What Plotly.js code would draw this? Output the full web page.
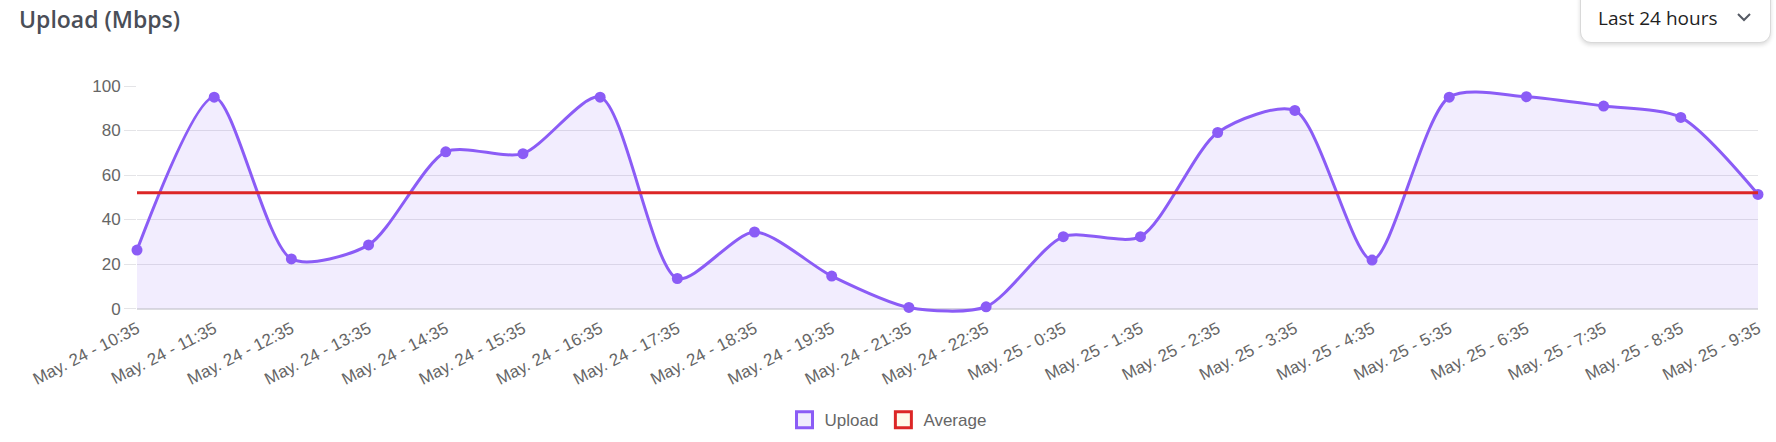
<!DOCTYPE html>
<html>
<head>
<meta charset="utf-8">
<script src="https://cdn.plot.ly/plotly-3.0.1.min.js"></script>
<style>
  html, body { margin: 0; padding: 0; background: #fff; }
  #wrap { position: relative; width: 1776px; height: 442px; overflow: hidden; }
  #chart { position: absolute; left: 0; top: 0; width: 1776px; height: 442px; }
  #dropdown {
    position: absolute; left: 1580px; top: -12px; width: 191px; height: 55px;
    border: 1px solid #d9d9d9; border-radius: 11px; background: #fff;
    box-shadow: 0 2px 4px rgba(0,0,0,0.14);
    font-family: "Open Sans", "Noto Sans", sans-serif; font-size: 19px; color: #1f1f1f;
    box-sizing: border-box;
  }
  #dropdown .txt { position: absolute; left: 17px; top: 17px; line-height: 24px; }
  #dropdown svg { position: absolute; left: 155px; top: 23px; }
</style>
</head>
<body>
<div id="wrap">
  <div id="chart"></div>
  <div id="dropdown"><span class="txt">Last 24 hours</span>
    <svg width="16" height="10" viewBox="0 0 16 10"><polyline points="2,2 8,8 14,2" fill="none" stroke="#555a64" stroke-width="2"/></svg>
  </div>
</div>
<script>
const categories = [
  "May. 24 - 10:35", "May. 24 - 11:35", "May. 24 - 12:35", "May. 24 - 13:35",
  "May. 24 - 14:35", "May. 24 - 15:35", "May. 24 - 16:35", "May. 24 - 17:35",
  "May. 24 - 18:35", "May. 24 - 19:35", "May. 24 - 21:35", "May. 24 - 22:35",
  "May. 25 - 0:35", "May. 25 - 1:35", "May. 25 - 2:35", "May. 25 - 3:35",
  "May. 25 - 4:35", "May. 25 - 5:35", "May. 25 - 6:35", "May. 25 - 7:35",
  "May. 25 - 8:35", "May. 25 - 9:35"
];
const uploadValues = [
  26.3, 95.0, 22.3, 28.6, 70.4, 69.6, 95.0, 13.5, 34.4, 14.6, 0.5,
  0.8, 32.3, 32.3, 79.1, 89.0, 21.8, 95.0, 95.2, 91.0, 85.9, 51.3
];
const averageValues = [
  52.0, 52.0, 52.0, 52.0, 52.0, 52.0, 52.0, 52.0, 52.0, 52.0, 52.0,
  52.0, 52.0, 52.0, 52.0, 52.0, 52.0, 52.0, 52.0, 52.0, 52.0, 52.0
];
const yTicks = [0, 20, 40, 60, 80, 100];

const purple = "#8b5cf6";
const red = "#dc2626";

const traces = [
  {
    type: "scatter", mode: "lines+markers", x: categories, y: uploadValues,
    line: { color: purple, width: 3, shape: "spline", smoothing: 0.75 },
    marker: { color: purple, size: 11 },
    fill: "tozeroy", fillcolor: "rgba(139,92,246,0.11)",
    showlegend: false, cliponaxis: false, hoverinfo: "x+y"
  },
  {
    type: "scatter", mode: "lines", x: categories, y: averageValues,
    line: { color: red, width: 3 },
    showlegend: false, hoverinfo: "x+y"
  },
  {
    type: "scatter", mode: "markers", x: [null], y: [null], name: "Upload",
    marker: { symbol: "square", size: 16, color: "#f0ecfd", line: { color: purple, width: 3 } }
  },
  {
    type: "scatter", mode: "markers", x: [null], y: [null], name: "Average",
    marker: { symbol: "square", size: 16, color: "#fff9ea", line: { color: red, width: 3 } }
  }
];

const layout = {
  width: 1776, height: 442,
  margin: { l: 137, r: 18, t: 86, b: 128.5, pad: 0, autoexpand: false },
  paper_bgcolor: "#ffffff", plot_bgcolor: "#ffffff",
  font: { family: "Liberation Sans, Arial, sans-serif", size: 17, color: "#666666" },
  title: {
    text: "Upload (Mbps)", x: 19 / 1776, xanchor: "left", xref: "container",
    y: 1 - 20 / 442, yanchor: "middle", yref: "container",
    font: { family: "Open Sans, Noto Sans, sans-serif", size: 23, weight: 600, color: "#4a4e57" }
  },
  xaxis: {
    type: "category", range: [0, categories.length - 1], automargin: false,
    showgrid: false, zeroline: false, showline: false, ticks: "",
    tickangle: -27, ticklabelstandoff: 2, tickfont: { size: 17, color: "#666666" },
    fixedrange: true
  },
  yaxis: {
    range: [-2, 100], tickvals: yTicks, ticktext: yTicks.map(String), automargin: false,
    showgrid: true, gridcolor: "#e4e4e7", gridwidth: 1,
    zeroline: true, zerolinecolor: "#dcdce0", zerolinewidth: 1.5,
    showline: false, ticks: "outside", ticklen: 12, tickcolor: "#e4e4e7", tickwidth: 1,
    tickfont: { size: 17, color: "#666666" }, fixedrange: true
  },
  legend: {
    orientation: "h", x: (888 - 137) / 1621, xanchor: "center",
    y: (313.5 - 421) / 227.5, yanchor: "middle",
    font: { size: 17, color: "#666666" }, itemclick: false, itemdoubleclick: false,
    tracegroupgap: 0
  },
  showlegend: true
};

Plotly.newPlot("chart", traces, layout, { displayModeBar: false });
</script>
</body>
</html>
